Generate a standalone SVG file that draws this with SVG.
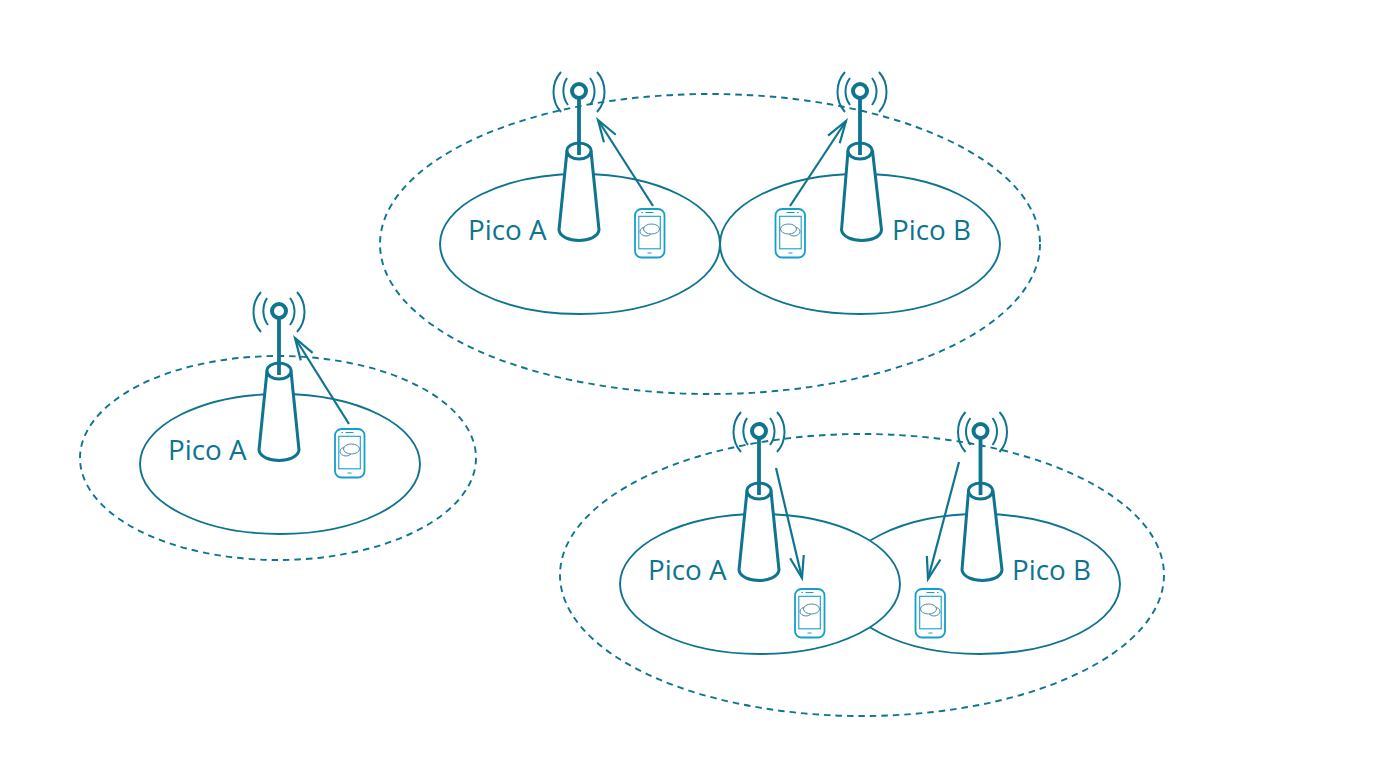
<svg xmlns="http://www.w3.org/2000/svg" width="1392" height="776" viewBox="0 0 1392 776">
<style>
.cell{fill:#fff;stroke:#0e7490;stroke-width:1.9}
.zone{fill:none;stroke:#0e7490;stroke-width:1.9;stroke-dasharray:6.5 5}
.t{fill:#fff;stroke:#0e7490;stroke-width:3;stroke-linejoin:round}
.c{fill:#fff;stroke:#0e7490;stroke-width:4}
.m{fill:none;stroke:#0e7490;stroke-width:3.8}
.w{fill:none;stroke:#0e7490;stroke-width:2}
.p{fill:#fff;stroke:#149fcb;stroke-width:1.8}
.pi{fill:none;stroke:#149fcb;stroke-width:1.1}
.b{fill:#fff;stroke:#4f8ba0;stroke-width:1}
.lk{fill:none;stroke:#0e7490;stroke-width:2.2;marker-end:url(#ah)}
text{font-family:"Open Sans","Noto Sans",sans-serif;font-size:27.8px;fill:#0e7490}
</style>
<defs>
<marker id="ah" markerUnits="userSpaceOnUse" markerWidth="26" markerHeight="20" refX="23" refY="10" viewBox="0 0 26 20" orient="auto"><path d="M1 3L23 10L1 17" fill="none" stroke="#0e7490" stroke-width="2.2"/></marker>
<g id="tower">
<path class="w" d="M-18-19C-28-8-28 10-18 21M18-19C28-8 28 10 18 21M-12-13C-17-5-17 6-11 14M11-13C17-5 17 6 11 14"/>
<path class="t" d="M-12 60L-20 139C-18 153 18 153 20 139L12 60Z"/>
<ellipse class="t" cx="0" cy="60" rx="12" ry="8"/>
<path class="m" d="M0 7V64"/>
<circle class="c" cx="0" cy="0" r="7"/>
</g>
<g id="towerb">
<path class="w" d="M-15-19C-25-8-25 10-15 21M19-19C29-8 29 10 19 21M-10-13C-16-5-16 6-10 14M12-13C18-5 18 6 12 14"/>
<path class="t" d="M-12 60L-18.500 139C-16 153 20 153 21.500 139L12.500 60Z"/>
<ellipse class="t" cx="0" cy="60" rx="12" ry="8"/>
<path class="m" d="M0 7V64"/>
<circle class="c" cx="0" cy="0" r="7"/>
</g>
<g id="phone">
<rect class="p" x="0.500" y="0.500" width="29.500" height="48.500" rx="6.500"/>
<rect class="pi" x="4.300" y="7.800" width="21.500" height="32.500"/>
<path class="pi" d="M11 4H19M7 4H8.500M13 44.500H17"/>
<ellipse class="b" cx="11.500" cy="23" rx="6" ry="4.500"/>
<ellipse class="b" cx="17" cy="20.500" rx="8" ry="5"/>
</g>
</defs>
<g id="zones">
<ellipse id="zone-1" class="zone" cx="710" cy="244" rx="330" ry="150"/>
<ellipse id="zone-2" class="zone" cx="278" cy="458" rx="198" ry="102"/>
<ellipse id="zone-3" class="zone" cx="862" cy="575" rx="302" ry="141"/>
</g>
<g id="cell-1a"><ellipse class="cell" cx="580" cy="244" rx="140" ry="70"/><text x="468" y="240">Pico A</text></g>
<g id="cell-1b"><ellipse class="cell" cx="860" cy="244" rx="140" ry="70"/><text x="892" y="240">Pico B</text></g>
<g id="cell-2a"><ellipse class="cell" cx="280" cy="464" rx="140" ry="70"/><text x="168" y="460">Pico A</text></g>
<g id="cell-3b"><ellipse class="cell" cx="980" cy="584" rx="140" ry="70"/><text x="1012" y="580">Pico B</text></g>
<g id="cell-3a"><ellipse class="cell" cx="760" cy="584" rx="140" ry="70"/><text x="648" y="580">Pico A</text></g>
<g id="tower-1a"><use href="#tower" x="579" y="91"/></g>
<g id="tower-1b"><use href="#towerb" x="860" y="91"/></g>
<g id="tower-2a"><use href="#tower" x="279" y="311"/></g>
<g id="tower-3a"><use href="#tower" x="759" y="431"/></g>
<g id="tower-3b"><use href="#towerb" x="980.500" y="431"/></g>
<g id="phone-1a"><use href="#phone" x="634.500" y="208.500"/></g>
<g id="phone-1b"><use href="#phone" transform="translate(805.500 208.500) scale(-1 1)"/></g>
<g id="phone-2a"><use href="#phone" x="334.500" y="428.500"/></g>
<g id="phone-3a"><use href="#phone" x="794.500" y="588.500"/></g>
<g id="phone-3b"><use href="#phone" transform="translate(945.500 588.500) scale(-1 1)"/></g>
<g id="connectors">
<path class="lk" d="M653 206L598 120"/>
<path class="lk" d="M790 206L846 121"/>
<path class="lk" d="M349 424L295 338"/>
<path class="lk" d="M776 468L802 578"/>
<path class="lk" d="M959 462L928 579"/>
</g>
</svg>
